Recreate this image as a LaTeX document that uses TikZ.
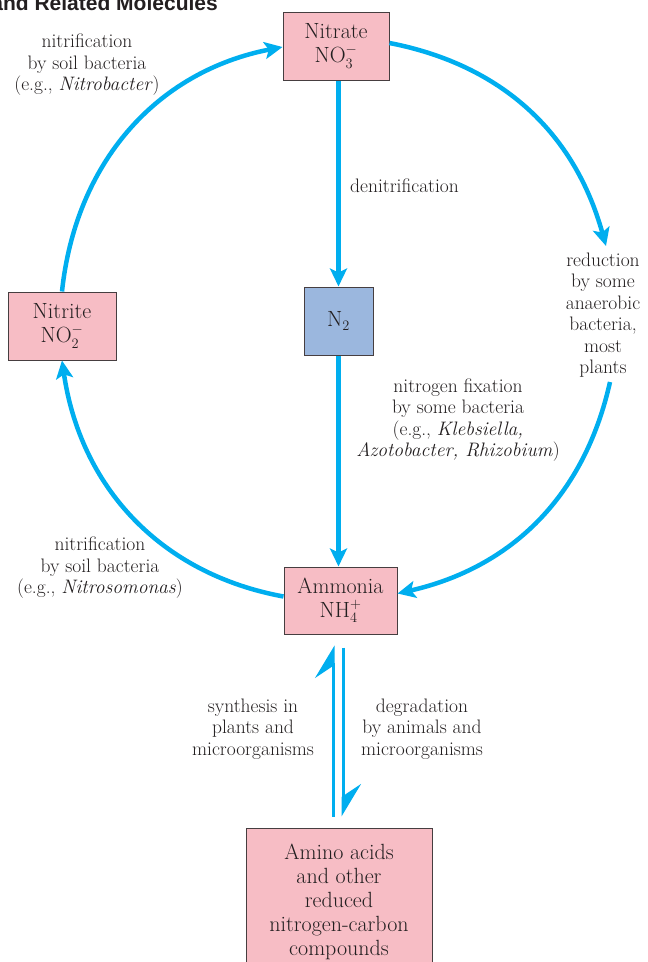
\documentclass[tikz,border=0pt]{standalone}
\usepackage{fontspec}
\newfontfamily\titlefont{Liberation Sans}
\usetikzlibrary{arrows.meta,calc}
\definecolor{cyc}{RGB}{0,174,239}
\definecolor{boxpink}{RGB}{247,189,197}
\definecolor{boxblue}{RGB}{155,183,222}
\definecolor{boxedge}{RGB}{70,62,64}
\definecolor{txt}{RGB}{35,31,32}
\begin{document}
\begin{tikzpicture}[x=1pt,y=1pt,
  box/.style={draw=boxedge,line width=1pt,fill=boxpink,align=center,inner sep=0pt,text=txt,font=\fontsize{22}{24}\selectfont},
  lbl/.style={align=center,inner sep=0pt,text=txt,font=\fontsize{19.5}{21.5}\selectfont},
  flow/.style={draw=cyc,line width=4.5pt,-{Stealth[length=18pt,width=17pt,inset=4pt]}},
  harp/.style={draw=cyc,line width=3pt,-{Stealth[harpoon,length=30pt,width=36pt,inset=12pt]}}]
\useasboundingbox (0,0) rectangle (648,-962);

% title (cropped)
\node[anchor=base east,inner sep=0pt,text=txt,font=\titlefont\bfseries\fontsize{21}{24}\selectfont] (title) at (218,-10) {and Related Molecules};

% boxes
\node[box,minimum width=106pt,minimum height=68pt] (nitrate) at (336,-46) {Nitrate\\$\mathrm{NO}_3^-$};
\node[box,minimum width=108pt,minimum height=68pt] (nitrite) at (62,-326) {Nitrite\\$\mathrm{NO}_2^-$};
\node[box,fill=boxblue,minimum width=69pt,minimum height=68pt] (n2) at (338.5,-321) {$\mathrm{N}_2$};
\node[box,minimum width=113pt,minimum height=67pt] (ammonia) at (340.5,-600.5) {Ammonia\\$\mathrm{NH}_4^+$};
\node[box,minimum width=186pt,minimum height=147pt] (amino) at (339,-901.5) {Amino acids\\and other\\reduced\\nitrogen-carbon\\compounds};

% labels
\node[lbl] (l1) at (87,-65) {nitrification\\by soil bacteria\\(e.g., \textit{Nitrobacter})};
\node[lbl,anchor=west] (l2) at (350,-186) {denitrification};
\node[lbl] (l3) at (603,-315) {reduction\\by some\\anaerobic\\bacteria,\\most\\plants};
\node[lbl] (l4) at (458,-420) {nitrogen fixation\\by some bacteria\\(e.g., \textit{Klebsiella,}\\\textit{Azotobacter, Rhizobium})};
\node[lbl] (l5) at (100,-568) {nitrification\\by soil bacteria\\(e.g., \textit{Nitrosomonas})};
\node[lbl] (l6) at (253,-729) {synthesis in\\plants and\\microorganisms};
\node[lbl] (l7) at (422,-729) {degradation\\by animals and\\microorganisms};

% free ends
\coordinate (rtop) at (606,-246);
\coordinate (rbot) at (610,-382);
\coordinate (hLt) at ($(ammonia.south)+(-7.5,-11)$);
\coordinate (hLb) at ($(amino.north)+(-6,11)$);
\coordinate (hRt) at ($(ammonia.south)+(2.5,-13)$);
\coordinate (hRb) at ($(amino.north)+(4,11)$);

% connectors
\draw[flow] (n2.north |- nitrate.south) -- (n2.north);
\draw[flow] (n2.south) -- (n2.south |- ammonia.north);
\draw[flow] (nitrite.north) to[out=84,in=191] ([yshift=-1pt]nitrate.west);
\draw[flow] ([yshift=3pt]nitrate.east) to[out=-11,in=105.5] (rtop);
\draw[flow] (rbot) to[out=-102.6,in=12.8] ([yshift=7pt]ammonia.east);
\draw[flow] ([yshift=4pt]ammonia.west) to[out=169.6,in=-81.7] (nitrite.south);
\draw[harp] (hLb) -- (hLt);
\draw[harp] (hRt) -- (hRb);
\end{tikzpicture}
\end{document}
